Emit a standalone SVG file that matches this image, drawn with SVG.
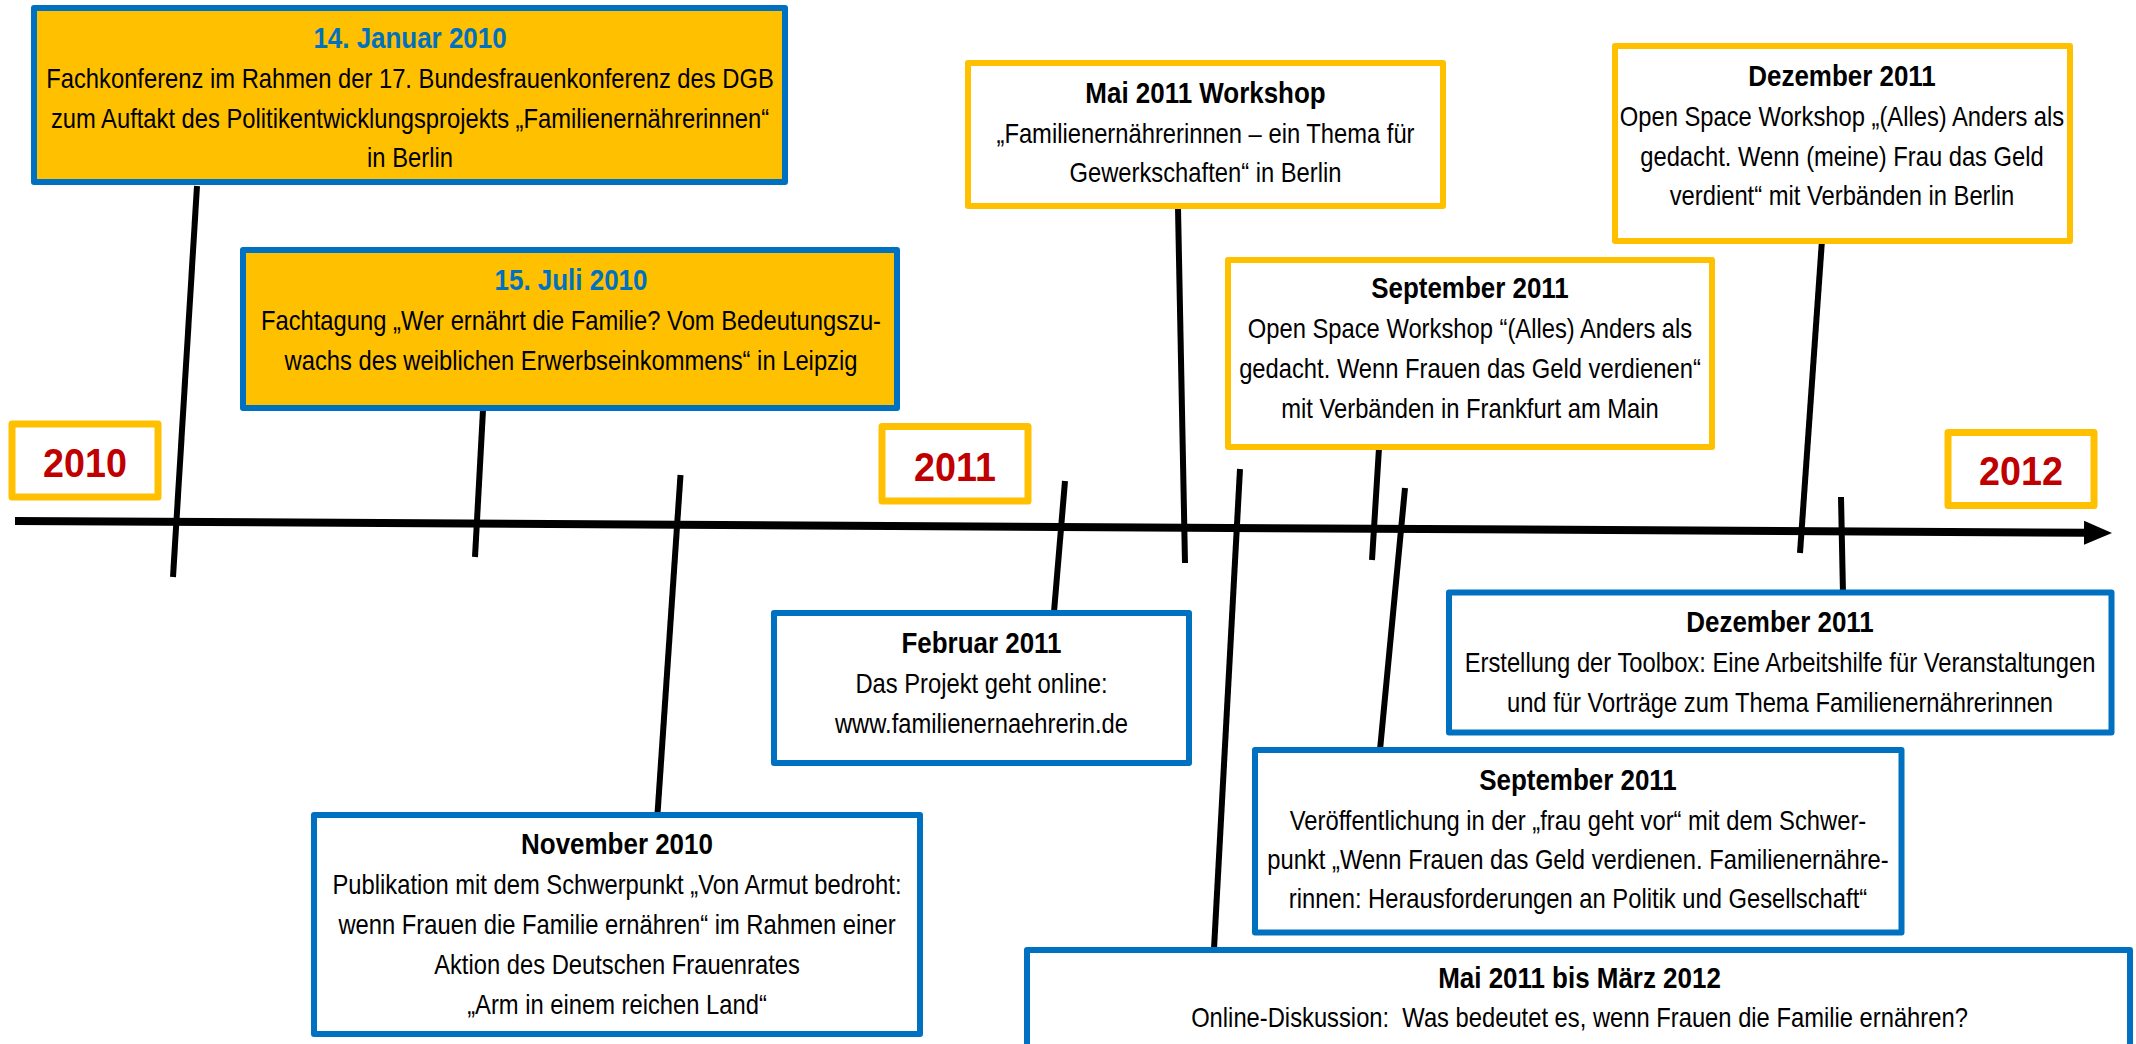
<svg xmlns="http://www.w3.org/2000/svg" width="2136" height="1044" viewBox="0 0 2136 1044">
<defs>
<style>
.by { fill:#FFC000; stroke:#0070C0; stroke-width:6; stroke-linejoin:round; }
.bw { fill:#FFFFFF; stroke:#FFC000; stroke-width:6; stroke-linejoin:round; }
.bb { fill:#FFFFFF; stroke:#0070C0; stroke-width:6; stroke-linejoin:round; }
.yb { fill:#FFFFFF; stroke:#FFC000; stroke-width:7; stroke-linejoin:round; }
text { font-family:"Liberation Sans", Arial, sans-serif; text-anchor:middle; white-space:pre; }
.h { font-weight:bold; font-size:29.5px; fill:#000000; }
.hb { fill:#0070C0; }
.t { font-size:27px; fill:#000000; }
.yr { font-weight:bold; font-size:41px; fill:#C00000; }
.c { stroke:#000000; stroke-width:6; fill:none; }
.axis { stroke:#000000; stroke-width:8; fill:none; }
</style>
<marker id="arrow" markerUnits="userSpaceOnUse" markerWidth="30" markerHeight="26" viewBox="0 0 30 26" refX="4" refY="13" orient="auto">
<path d="M0,1 L28,13 L0,25 Z" fill="#000000"/>
</marker>
</defs>
<rect width="2136" height="1044" fill="#FFFFFF"/>

<g id="connectors">
<line class="axis" x1="15" y1="521" x2="2088" y2="532.8" marker-end="url(#arrow)"/>
<line class="c" x1="197" y1="186" x2="173" y2="577"/>
<line class="c" x1="483" y1="410" x2="475" y2="557"/>
<line class="c" x1="680.5" y1="475" x2="657.5" y2="814"/>
<line class="c" x1="1065" y1="481" x2="1054" y2="612"/>
<line class="c" x1="1178" y1="208" x2="1185" y2="563"/>
<line class="c" x1="1240" y1="469" x2="1214" y2="949"/>
<line class="c" x1="1379" y1="448" x2="1372" y2="560"/>
<line class="c" x1="1405" y1="488" x2="1380" y2="750"/>
<line class="c" x1="1822" y1="240" x2="1800" y2="553"/>
<line class="c" x1="1841" y1="497" x2="1843" y2="594"/>
</g>

<g id="y2010">
<rect class="yb" x="12" y="424" width="146" height="73"/>
<g transform="translate(85 0) scale(0.92 1)"><text class="yr" y="477">2010</text></g>
</g>
<g id="y2011">
<rect class="yb" x="882" y="426.5" width="146" height="74.5"/>
<g transform="translate(955 0) scale(0.92 1)"><text class="yr" y="481.5">2011</text></g>
</g>
<g id="y2012">
<rect class="yb" x="1948" y="432.5" width="146" height="73"/>
<g transform="translate(2021 0) scale(0.92 1)"><text class="yr" y="485">2012</text></g>
</g>

<g id="jan2010">
<rect class="by" x="34" y="8" width="751" height="174"/>
<g transform="translate(410 0) scale(0.88 1)">
<text class="h hb" y="48">14. Januar 2010</text>
<text class="t" y="88">Fachkonferenz im Rahmen der 17. Bundesfrauenkonferenz des DGB</text>
<text class="t" y="128">zum Auftakt des Politikentwicklungsprojekts „Familienernährerinnen“</text>
<text class="t" y="167">in Berlin</text>
</g>
</g>

<g id="jul2010">
<rect class="by" x="243" y="250" width="654" height="158"/>
<g transform="translate(571 0) scale(0.88 1)">
<text class="h hb" y="290">15. Juli 2010</text>
<text class="t" y="330">Fachtagung „Wer ernährt die Familie? Vom Bedeutungszu-</text>
<text class="t" y="370">wachs des weiblichen Erwerbseinkommens“ in Leipzig</text>
</g>
</g>

<g id="mai2011">
<rect class="bw" x="968" y="63" width="475" height="143"/>
<g transform="translate(1205.5 0) scale(0.88 1)">
<text class="h" y="103">Mai 2011 Workshop</text>
<text class="t" y="143">„Familienernährerinnen – ein Thema für</text>
<text class="t" y="182">Gewerkschaften“ in Berlin</text>
</g>
</g>

<g id="sep2011a">
<rect class="bw" x="1228" y="260" width="484" height="187"/>
<g transform="translate(1470 0) scale(0.88 1)">
<text class="h" y="298">September 2011</text>
<text class="t" y="338">Open Space Workshop “(Alles) Anders als</text>
<text class="t" y="378">gedacht. Wenn Frauen das Geld verdienen“</text>
<text class="t" y="418">mit Verbänden in Frankfurt am Main</text>
</g>
</g>

<g id="dez2011a">
<rect class="bw" x="1615" y="46" width="455" height="195"/>
<g transform="translate(1842 0) scale(0.88 1)">
<text class="h" y="86">Dezember 2011</text>
<text class="t" y="126">Open Space Workshop „(Alles) Anders als</text>
<text class="t" y="166">gedacht. Wenn (meine) Frau das Geld</text>
<text class="t" y="205">verdient“ mit Verbänden in Berlin</text>
</g>
</g>

<g id="feb2011">
<rect class="bb" x="774" y="613" width="415" height="150"/>
<g transform="translate(981.5 0) scale(0.88 1)">
<text class="h" y="653">Februar 2011</text>
<text class="t" y="693">Das Projekt geht online:</text>
<text class="t" y="733">www.familienernaehrerin.de</text>
</g>
</g>

<g id="nov2010">
<rect class="bb" x="314" y="815" width="606" height="219"/>
<g transform="translate(617 0) scale(0.88 1)">
<text class="h" y="854">November 2010</text>
<text class="t" y="894">Publikation mit dem Schwerpunkt „Von Armut bedroht:</text>
<text class="t" y="934">wenn Frauen die Familie ernähren“ im Rahmen einer</text>
<text class="t" y="974">Aktion des Deutschen Frauenrates</text>
<text class="t" y="1014">„Arm in einem reichen Land“</text>
</g>
</g>

<g id="dez2011b">
<rect class="bb" x="1449" y="592.5" width="662.5" height="140"/>
<g transform="translate(1780 0) scale(0.88 1)">
<text class="h" y="632">Dezember 2011</text>
<text class="t" y="672">Erstellung der Toolbox: Eine Arbeitshilfe für Veranstaltungen</text>
<text class="t" y="712">und für Vorträge zum Thema Familienernährerinnen</text>
</g>
</g>

<g id="sep2011b">
<rect class="bb" x="1255" y="750" width="646.5" height="182.5"/>
<g transform="translate(1578 0) scale(0.88 1)">
<text class="h" y="790">September 2011</text>
<text class="t" y="830">Veröffentlichung in der „frau geht vor“ mit dem Schwer-</text>
<text class="t" y="869">punkt „Wenn Frauen das Geld verdienen. Familienernähre-</text>
<text class="t" y="908">rinnen: Herausforderungen an Politik und Gesellschaft“</text>
</g>
</g>

<g id="mai2011bis2012">
<rect class="bb" x="1027" y="950" width="1103" height="120"/>
<g transform="translate(1579.5 0) scale(0.88 1)">
<text class="h" y="988">Mai 2011 bis März 2012</text>
<text class="t" y="1027">Online-Diskussion:  Was bedeutet es, wenn Frauen die Familie ernähren?</text>
</g>
</g>
</svg>
